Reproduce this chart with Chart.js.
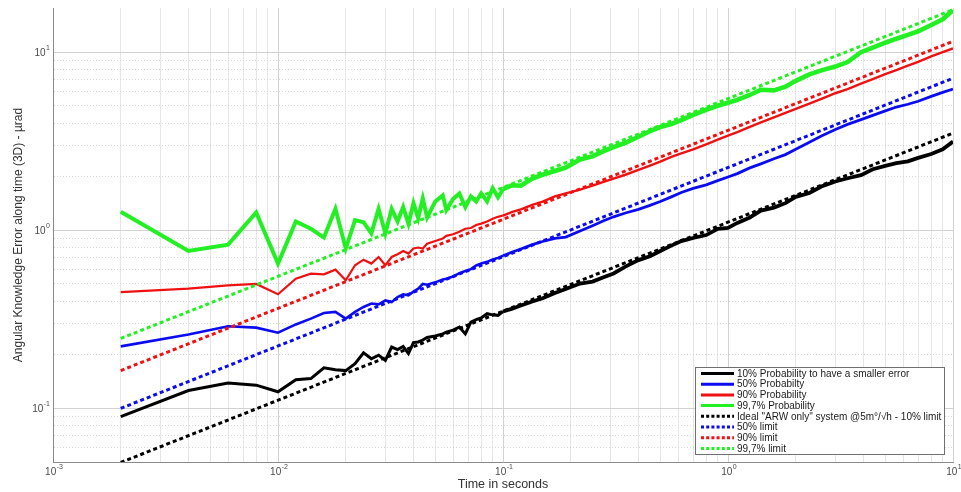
<!DOCTYPE html>
<html>
<head>
<meta charset="utf-8">
<script src="https://cdn.jsdelivr.net/npm/chart.js@4.4.1/dist/chart.umd.min.js"></script>
<style>
  html, body { margin: 0; padding: 0; background: #fff; }
  #wrap { width: 961px; height: 492px; }
</style>
</head>
<body>
<div id="wrap"><canvas id="chart" width="961" height="492"></canvas></div>
<script>
// time (s) shared by the four measured curves
const timeSec = [0.002,0.004,0.006,0.008,0.010,0.012,0.014,0.016,0.018,0.020,
  0.022,0.024,0.026,0.028,0.030,0.032,0.034,0.036,0.038,0.040,
  0.042,0.044,0.046,0.050,0.054,0.056,0.060,0.064,0.068,0.072,
  0.076,0.080,0.085,0.090,0.095,0.10,0.11,0.12,0.135,0.15,
  0.17,0.19,0.22,0.25,0.28,0.31,0.35,0.40,0.45,0.50,
  0.56,0.62,0.70,0.80,0.90,1.0,1.1,1.25,1.4,1.6,
  1.8,2.0,2.3,2.6,3.0,3.4,3.9,4.4,5.0,5.6,
  6.3,7.0,8.0,9.0,10];

// error (µrad) for each probability level
const prob10 = [0.090,0.126,0.139,0.135,0.124,0.145,0.147,0.169,0.165,0.163,
  0.178,0.205,0.190,0.199,0.186,0.221,0.214,0.223,0.203,0.234,
  0.236,0.242,0.250,0.255,0.262,0.268,0.275,0.286,0.262,0.305,
  0.315,0.322,0.340,0.335,0.333,0.350,0.363,0.378,0.398,0.415,
  0.445,0.468,0.502,0.515,0.545,0.572,0.625,0.680,0.715,0.765,
  0.820,0.870,0.905,0.940,1.02,1.03,1.10,1.18,1.29,1.34,
  1.42,1.54,1.62,1.76,1.88,1.96,2.04,2.20,2.30,2.38,
  2.44,2.55,2.68,2.85,3.15];
const prob50 = [0.223,0.260,0.289,0.284,0.266,0.296,0.319,0.343,0.348,0.319,
  0.348,0.371,0.388,0.384,0.404,0.395,0.422,0.437,0.431,0.452,
  0.470,0.500,0.495,0.510,0.530,0.535,0.550,0.575,0.590,0.605,
  0.635,0.650,0.665,0.685,0.700,0.720,0.755,0.785,0.830,0.865,
  0.900,0.915,0.990,1.06,1.13,1.19,1.25,1.31,1.38,1.45,
  1.54,1.63,1.72,1.80,1.90,1.99,2.08,2.24,2.36,2.52,
  2.66,2.85,3.12,3.38,3.68,3.93,4.18,4.42,4.68,4.92,
  5.10,5.30,5.65,5.95,6.20];
const prob90 = [0.450,0.470,0.491,0.500,0.437,0.535,0.571,0.566,0.601,0.524,
  0.636,0.684,0.650,0.708,0.636,0.708,0.733,0.765,0.740,0.790,
  0.800,0.790,0.840,0.870,0.900,0.930,0.950,0.980,1.02,1.03,
  1.07,1.09,1.12,1.16,1.19,1.21,1.27,1.31,1.39,1.45,
  1.55,1.61,1.69,1.78,1.87,1.95,2.05,2.18,2.31,2.43,
  2.58,2.70,2.85,3.04,3.23,3.40,3.56,3.81,4.03,4.31,
  4.56,4.80,5.14,5.46,5.88,6.21,6.66,7.05,7.53,7.94,
  8.40,8.83,9.46,10.0,10.5];
const prob997 = [1.27,0.765,0.83,1.26,0.65,1.12,1.02,0.91,1.32,0.79,
  1.14,1.11,0.96,1.32,0.96,1.32,1.12,1.35,1.09,1.42,
  1.17,1.51,1.18,1.45,1.57,1.30,1.50,1.61,1.35,1.55,
  1.45,1.61,1.45,1.72,1.53,1.70,1.79,1.78,1.95,2.05,
  2.15,2.25,2.50,2.60,2.78,2.93,3.10,3.35,3.60,3.80,
  3.95,4.15,4.45,4.75,5.00,5.20,5.40,5.75,6.15,6.10,
  6.40,6.90,7.50,7.90,8.30,8.80,10.0,10.6,11.3,11.9,
  12.5,13.1,14.2,15.3,17.2];

// ideal ARW-only limits (straight in log-log): end points
const limitTime = [0.002, 10];
const limit10 = [0.0497, 3.51];
const limit50 = [0.100, 7.14];
const limit90 = [0.163, 11.5];
const limit997 = [0.247, 17.3];

const seriesNames = [
  '10% Probability to have a smaller error',
  '50% Probabilty',
  '90% Probability',
  '99,7% Probability',
  'Ideal "ARW only" system @5m\u00B0/\u221Ah - 10% limit',
  '50% limit',
  '90% limit',
  '99,7% limit'
];
const seriesColors = ['#000000', '#0b0bef', '#ef1111', '#22f022'];

// decade ticks: label is "10" with the exponent raised
const xMajorTicks = [0.001, 0.01, 0.1, 1, 10];
const xTickExps = ['-3', '-2', '-1', '0', '1'];
const yMajorTicks = [0.1, 1, 10];
const yTickExps = ['-1', '0', '1'];

const xMin = 0.001, xMax = 10;
const yMin = 0.05, yMax = 17.7;

const FONT = "'Liberation Sans', Arial, sans-serif";

function pts(xs, ys) { return xs.map((x, i) => ({ x: x, y: ys[i] })); }

function isDecade(v) {
  const l = Math.log10(v);
  return Math.abs(l - Math.round(l)) < 1e-9;
}

// 1..9 x 10^n inside the range, for the grid
function gridTicks(min, max) {
  const out = [];
  for (let e = Math.floor(Math.log10(min)); e <= Math.ceil(Math.log10(max)); e++) {
    for (let k = 1; k <= 9; k++) {
      const v = k * Math.pow(10, e);
      if (v >= min * 0.9999 && v <= max * 1.0001) out.push({ value: v });
    }
  }
  return out;
}

const measured = [prob10, prob50, prob90, prob997];
const limits = [limit10, limit50, limit90, limit997];
const solidWidths = [3, 2.6, 2.2, 4];
const noisyWidths = [3.8, 2.8, 2.4, 4.6];   // after 0.1 s the traces are dense and jittery

const datasets = [];
measured.forEach((vals, i) => {
  datasets.push({
    label: seriesNames[i], data: pts(timeSec, vals),
    borderColor: seriesColors[i], borderWidth: solidWidths[i],
    segment: { borderWidth: c => timeSec[c.p0DataIndex] >= 0.1 ? noisyWidths[i] : solidWidths[i] },
    pointRadius: 0, tension: 0, fill: false, order: 1
  });
});
limits.forEach((vals, i) => {
  datasets.push({
    label: seriesNames[i + 4], data: pts(limitTime, vals),
    borderColor: seriesColors[i], borderWidth: 3, borderDash: [4, 3],
    borderCapStyle: 'butt', pointRadius: 0, tension: 0, fill: false, order: 0
  });
});

function drawPower(ctx, x, y, exp, align) {
  ctx.font = '10px ' + FONT;
  const bw = ctx.measureText('10').width;
  ctx.font = '7px ' + FONT;
  const ew = ctx.measureText(exp).width;
  const total = bw + ew + 0.5;
  const left = align === 'center' ? x - total / 2 : x - total;
  ctx.textAlign = 'left';
  ctx.textBaseline = 'middle';
  ctx.font = '10px ' + FONT;
  ctx.fillText('10', left, y);
  ctx.font = '7px ' + FONT;
  ctx.fillText(exp, left + bw + 0.5, y - 5);
}

// MATLAB-like power-of-ten tick labels
const powerLabels = {
  id: 'powerLabels',
  afterDraw(chart) {
    const ctx = chart.ctx;
    const xs = chart.scales.x, ys = chart.scales.y;
    ctx.save();
    ctx.fillStyle = '#4a4a4a';
    xMajorTicks.forEach((v, i) => {
      drawPower(ctx, xs.getPixelForValue(v) + 1, xs.top + 10, xTickExps[i], 'center');
    });
    yMajorTicks.forEach((v, i) => {
      drawPower(ctx, ys.right - 3, ys.getPixelForValue(v) + 1, yTickExps[i], 'right');
    });
    ctx.restore();
  }
};

// legend box drawn inside the plot, lower right
const boxLegend = {
  id: 'boxLegend',
  afterDatasetsDraw(chart) {
    const ctx = chart.ctx;
    const area = chart.chartArea;
    const w = 249, h = 87;
    const x0 = area.right - 9 - w, y0 = area.bottom - 8 - h;
    ctx.save();
    ctx.fillStyle = '#ffffff';
    ctx.fillRect(x0, y0, w, h);
    ctx.strokeStyle = '#707070';
    ctx.lineWidth = 1;
    ctx.strokeRect(x0 + 0.5, y0 + 0.5, w, h);
    ctx.font = '10px ' + FONT;
    ctx.textBaseline = 'middle';
    ctx.fillStyle = '#1a1a1a';
    chart.data.datasets.forEach((ds, i) => {
      const y = y0 + 6.5 + i * 10.7;
      ctx.beginPath();
      ctx.strokeStyle = ds.borderColor;
      ctx.lineWidth = 3;
      ctx.setLineDash(ds.borderDash ? [3, 2.2] : []);
      ctx.moveTo(x0 + 6, y);
      ctx.lineTo(x0 + 39, y);
      ctx.stroke();
      ctx.setLineDash([]);
      ctx.fillText(ds.label, x0 + 42, y + 0.5);
    });
    ctx.restore();
  }
};

new Chart(document.getElementById('chart'), {
  type: 'line',
  data: { datasets: datasets },
  options: {
    responsive: false,
    animation: false,
    layout: { padding: { left: 0, right: 8, top: 8, bottom: 0 } },
    plugins: { legend: { display: false }, tooltip: { enabled: false } },
    scales: {
      x: {
        type: 'logarithmic', min: xMin, max: xMax,
        afterBuildTicks: s => { s.ticks = gridTicks(xMin, xMax); },
        afterFit: s => { s.height = 30; },
        ticks: { display: false, autoSkip: false },
        grid: {
          drawTicks: false, lineWidth: 1,
          color: c => (c.tick && isDecade(c.tick.value)) ? '#d2d2d2' : '#e6e6e6'
        },
        border: { color: '#8a8a8a', width: 1 },
        title: {
          display: true, text: 'Time in seconds', color: '#333',
          font: { family: FONT, size: 12.5 }, padding: { top: 0, bottom: 0 }
        }
      },
      y: {
        type: 'logarithmic', min: yMin, max: yMax,
        afterBuildTicks: s => { s.ticks = gridTicks(yMin, yMax); },
        afterFit: s => { s.width = 53; },
        ticks: { display: false, autoSkip: false },
        grid: {
          drawTicks: false, lineWidth: 1,
          color: c => (c.tick && isDecade(c.tick.value)) ? '#d2d2d2' : '#d6d6d6'
        },
        border: {
          color: '#8a8a8a', width: 1,
          dash: c => (c.tick && !isDecade(c.tick.value)) ? [1, 2] : []
        },
        title: {
          display: true, text: 'Angular Knowledge Error along time (3D) - \u00B5rad', color: '#333',
          font: { family: FONT, size: 12 }, padding: { top: 11, bottom: 0 }
        }
      }
    }
  },
  plugins: [boxLegend, powerLabels]
});
</script>
</body>
</html>
